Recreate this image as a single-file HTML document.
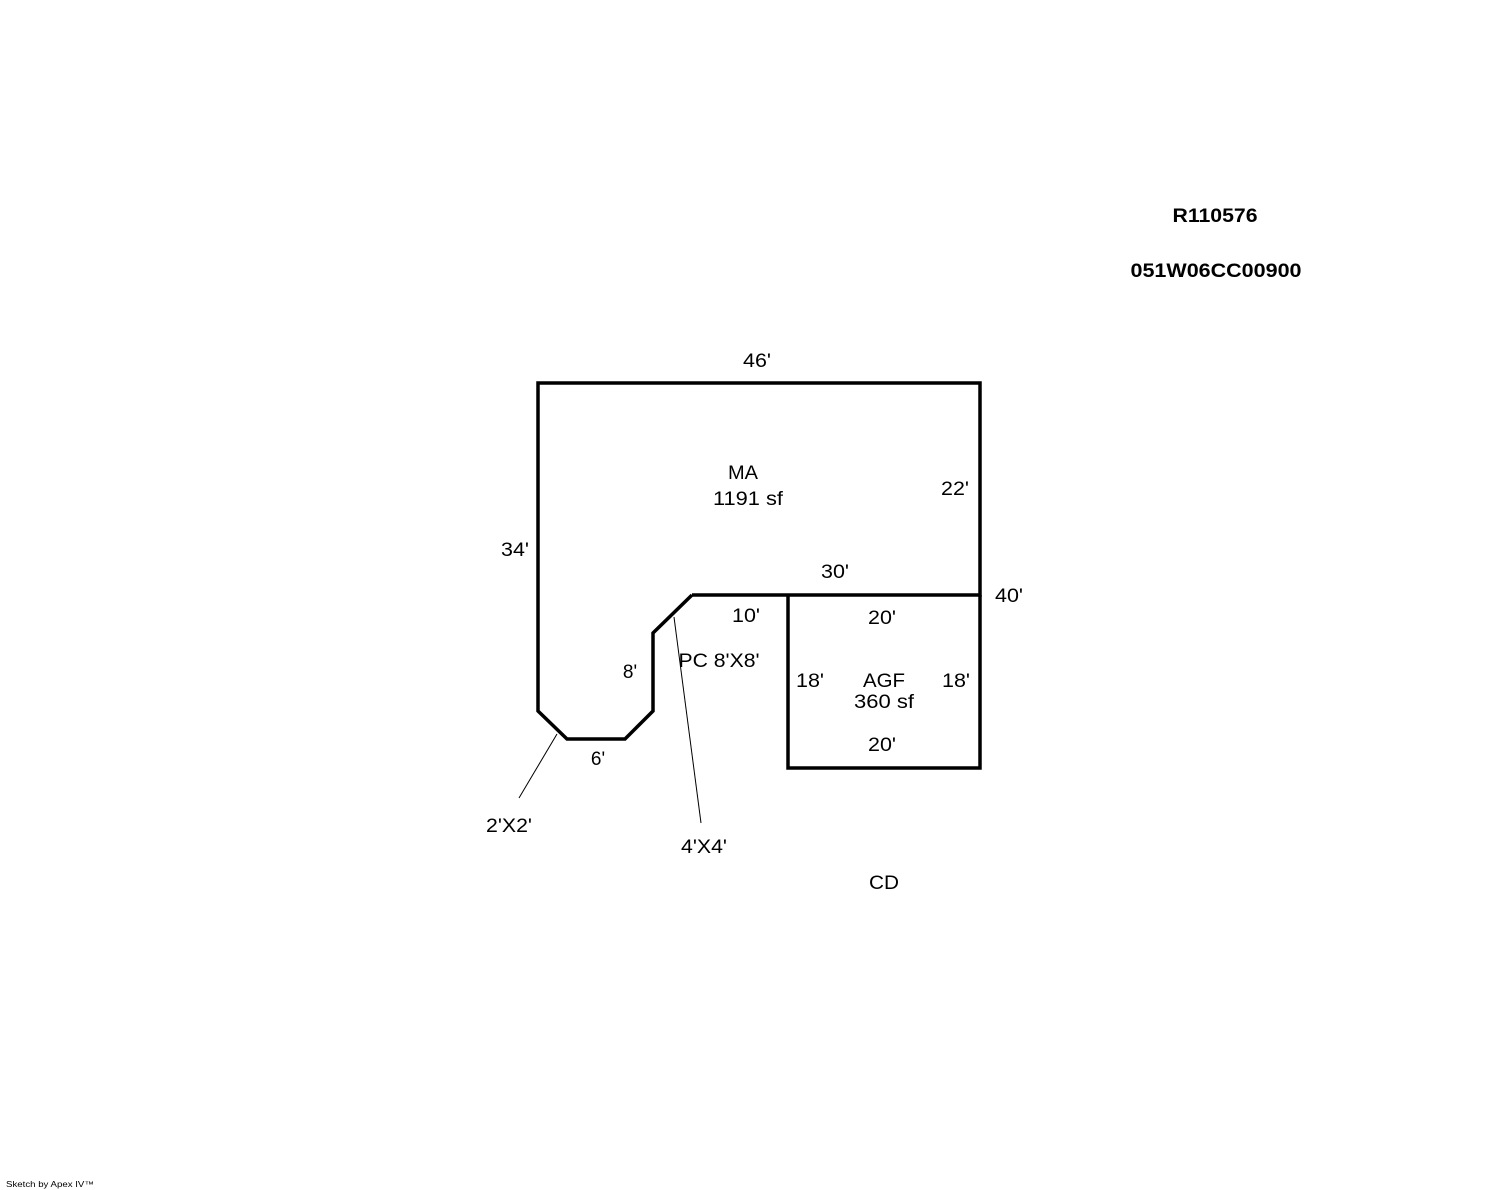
<!DOCTYPE html>
<html><head><style>
body{margin:0;background:#fff;}
svg{display:block}
text{font-family:"Liberation Sans",Arial,sans-serif;font-size:19px;fill:#000}
</style></head><body>
<svg width="1488" height="1190" xmlns="http://www.w3.org/2000/svg">
<g fill="none" stroke="#000" stroke-width="3.5" stroke-linejoin="miter">
<polyline points="692,595 980,595 980,383 538,383 538,711 567,739 625,739 653,711 653,633 692,595"/>
<polyline points="788,595 788,768 980,768 980,595"/>
</g>
<g stroke="#000" stroke-width="1">
<line x1="557" y1="734" x2="519" y2="798"/>
<line x1="674" y1="617" x2="701" y2="823"/>
</g>
<g text-anchor="middle">
<text x="1215" y="222" font-weight="bold" textLength="85" lengthAdjust="spacingAndGlyphs">R110576</text>
<text x="1216" y="277" font-weight="bold" textLength="171" lengthAdjust="spacingAndGlyphs">051W06CC00900</text>
<text x="757" y="367" textLength="28" lengthAdjust="spacingAndGlyphs">46'</text>
<text x="743" y="479" textLength="30" lengthAdjust="spacingAndGlyphs">MA</text>
<text x="748" y="505" textLength="70" lengthAdjust="spacingAndGlyphs">1191 sf</text>
<text x="955" y="495" textLength="28" lengthAdjust="spacingAndGlyphs">22'</text>
<text x="515" y="556" textLength="28" lengthAdjust="spacingAndGlyphs">34'</text>
<text x="835" y="578" textLength="28" lengthAdjust="spacingAndGlyphs">30'</text>
<text x="1009" y="602" textLength="28" lengthAdjust="spacingAndGlyphs">40'</text>
<text x="746" y="622" textLength="28" lengthAdjust="spacingAndGlyphs">10'</text>
<text x="882" y="624" textLength="28" lengthAdjust="spacingAndGlyphs">20'</text>
<text x="719" y="667" textLength="81" lengthAdjust="spacingAndGlyphs">PC 8'X8'</text>
<text x="630" y="678">8'</text>
<text x="810" y="687" textLength="28" lengthAdjust="spacingAndGlyphs">18'</text>
<text x="884" y="687" textLength="42" lengthAdjust="spacingAndGlyphs">AGF</text>
<text x="884" y="708" textLength="60" lengthAdjust="spacingAndGlyphs">360 sf</text>
<text x="956" y="687" textLength="28" lengthAdjust="spacingAndGlyphs">18'</text>
<text x="882" y="751" textLength="28" lengthAdjust="spacingAndGlyphs">20'</text>
<text x="598" y="765">6'</text>
<text x="509" y="832" textLength="46" lengthAdjust="spacingAndGlyphs">2'X2'</text>
<text x="704" y="853" textLength="46" lengthAdjust="spacingAndGlyphs">4'X4'</text>
<text x="884" y="889" textLength="30" lengthAdjust="spacingAndGlyphs">CD</text>
</g>
<text x="6" y="1187" style="font-size:8px" textLength="88" lengthAdjust="spacingAndGlyphs">Sketch by Apex IV™</text>
</svg>
</body></html>
